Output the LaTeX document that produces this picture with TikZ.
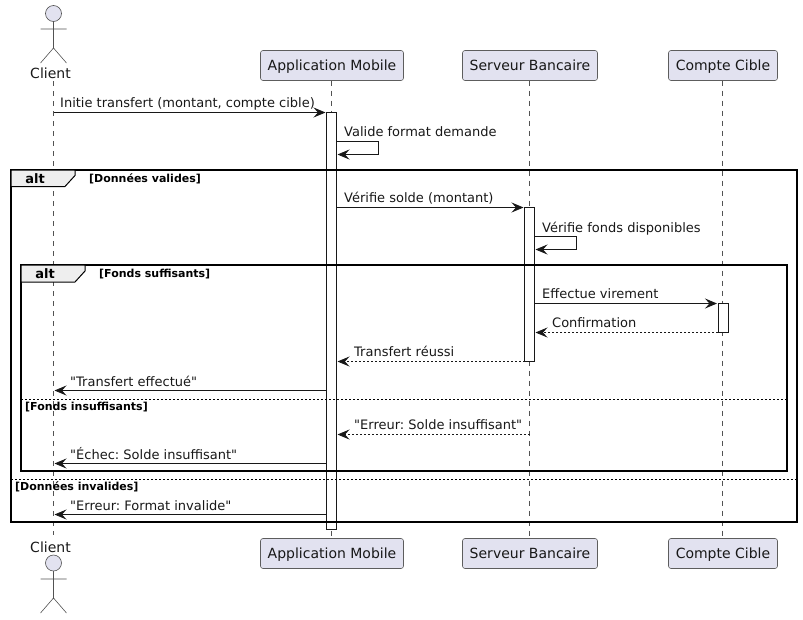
\documentclass[tikz,border=0pt]{standalone}
\usepackage{fontspec}
\setmainfont[Ligatures=TeXOff]{DejaVu Sans}
\frenchspacing
\usetikzlibrary{arrows.meta}
\definecolor{partfill}{HTML}{E2E2F0}
\definecolor{ink}{HTML}{181818}
\definecolor{tabfill}{HTML}{EEEEEE}
\tikzset{
  x=1pt,y=-1pt,
  part/.style={draw=ink!70,line width=0.6pt,fill=partfill,rounded corners=2.5pt,minimum height=30pt,inner sep=0pt,font=\fontsize{14}{16}\selectfont,text=ink,text height=11pt,text depth=2pt},
  actortext/.style={inner sep=0pt,font=\fontsize{14}{16}\selectfont,text=ink,anchor=base},
  lifeline/.style={draw=ink!75,line width=0.5pt,dash pattern=on 5pt off 5pt},
  actorline/.style={draw=ink!75,line width=0.6pt},
  actorhead/.style={draw=ink!75,line width=0.6pt,fill=partfill},
  actbox/.style={draw=ink,line width=0.8pt,fill=white,inner sep=0pt,minimum width=10pt},
  frame/.style={draw=black,line width=1.5pt},
  tab/.style={draw=black,line width=1pt,fill=tabfill},
  msg/.style={draw=ink,line width=0.8pt,-{Stealth[length=12pt,width=10pt,inset=4.5pt]}},
  rmsg/.style={msg,dash pattern=on 2pt off 2pt},
  lbl/.style={inner sep=0pt,anchor=base west,font=\fontsize{13}{15}\selectfont,text=ink},
  guard/.style={inner sep=0pt,anchor=base west,font=\fontsize{11}{13}\selectfont\bfseries,text=black},
  alttext/.style={inner sep=0pt,anchor=base,font=\fontsize{13}{15}\selectfont\bfseries,text=black},
  sep/.style={draw=black,line width=0.8pt,dash pattern=on 2pt off 2pt},
}
\begin{document}
\begin{tikzpicture}
\useasboundingbox (0,0) rectangle (803,619);
% participants
\node[part,minimum width=143pt] (appt) at (332,65.5) {Application Mobile};
\node[part,minimum width=135pt] (srvt) at (530,65.5) {Serveur Bancaire};
\node[part,minimum width=109pt] (cptt) at (723,65.5) {Compte Cible};
\node[part,minimum width=143pt] (appb) at (332,553.5) {Application Mobile};
\node[part,minimum width=135pt] (srvb) at (530,553.5) {Serveur Bancaire};
\node[part,minimum width=109pt] (cptb) at (723,553.5) {Compte Cible};
\node[actortext] (clit) at (50.5,78) {Client};
\node[actortext] (clib) at (50.5,552) {Client};
\coordinate (cliTop) at (53.5,81);
\coordinate (cliBot) at (53.5,535);
% lifelines
\draw[lifeline] (cliTop) -- (cliBot);
\draw[lifeline] (331.5,80.5) -- (331.5,538.5);
\draw[lifeline] (529.5,80.5) -- (529.5,538.5);
\draw[lifeline] (722.5,80.5) -- (722.5,538.5);
% actors
\draw[actorline] (53.5,21.5) -- (53.5,48) (40.5,29) -- (66.5,29) (40.5,63) -- (53.5,48) -- (66.5,63);
\draw[actorhead] (53.5,13.5) circle (8);
\draw[actorline] (53.5,571) -- (53.5,598) (40.5,579) -- (66.5,579) (40.5,613) -- (53.5,598) -- (66.5,613);
\draw[actorhead] (53.5,563) circle (8);
% activations
\node[actbox,minimum height=417pt] (actapp) at (331.5,321) {};
\node[actbox,minimum height=153.5pt] (actsrv) at (529.5,284.25) {};
\node[actbox,minimum height=29pt] (actcpt) at (723,318) {};
% frames
\draw[frame] (11,170) rectangle (797,522);
\draw[tab] (11,170) -- (75,170) -- (75,175.5) -- (65,186.5) -- (11,186.5) -- cycle;
\node[alttext] (alt1) at (35,183) {alt};
\node[guard] (g1) at (89,182) {[Données valides]};
\draw[frame] (21,265) rectangle (787,471);
\draw[tab] (21,265) -- (85,265) -- (85,271) -- (75,282) -- (21,282) -- cycle;
\node[alttext] (alt2) at (45,278) {alt};
\node[guard] (g2) at (99,277) {[Fonds suffisants]};
\coordinate (s1a) at (21,399.5); \coordinate (s1b) at (787,399.5);
\draw[sep] (s1a) -- (s1b);
\node[guard] (g3) at (25,410) {[Fonds insuffisants]};
\coordinate (s2a) at (11,479.5); \coordinate (s2b) at (797,479.5);
\draw[sep] (s2a) -- (s2b);
\node[guard] (g4) at (15,490) {[Données invalides]};
% message ends
\coordinate (m1a) at (53.5,112.5); \coordinate (m1b) at (325.5,112.5);
\coordinate (m2a) at (336.5,141.5); \coordinate (m2c) at (378.5,141.5); \coordinate (m2d) at (378.5,154.5); \coordinate (m2b) at (337.5,154.5);
\coordinate (m3a) at (336.5,207.5); \coordinate (m3b) at (523.5,207.5);
\coordinate (m4a) at (534.5,236.5); \coordinate (m4c) at (576.5,236.5); \coordinate (m4d) at (576.5,249.5); \coordinate (m4b) at (535.5,249.5);
\coordinate (m5a) at (534.5,303.5); \coordinate (m5b) at (717,303.5);
\coordinate (m6a) at (718,332.5); \coordinate (m6b) at (535.5,332.5);
\coordinate (m7a) at (524.5,361.5); \coordinate (m7b) at (337.5,361.5);
\coordinate (m8a) at (326.5,390.5); \coordinate (m8b) at (54.5,390.5);
\coordinate (m9a) at (529.5,434.5); \coordinate (m9b) at (337.5,434.5);
\coordinate (m10a) at (326.5,463.5); \coordinate (m10b) at (54.5,463.5);
\coordinate (m11a) at (326.5,514.5); \coordinate (m11b) at (54.5,514.5);
% messages
\draw[msg] (m1a) -- (m1b);
\draw[msg] (m2a) -- (m2c) -- (m2d) -- (m2b);
\draw[msg] (m3a) -- (m3b);
\draw[msg] (m4a) -- (m4c) -- (m4d) -- (m4b);
\draw[msg] (m5a) -- (m5b);
\draw[rmsg] (m6a) -- (m6b);
\draw[rmsg] (m7a) -- (m7b);
\draw[msg] (m8a) -- (m8b);
\draw[rmsg] (m9a) -- (m9b);
\draw[msg] (m10a) -- (m10b);
\draw[msg] (m11a) -- (m11b);
% labels
\node[lbl] (l1) at (60,107) {Initie transfert (montant, compte cible)};
\node[lbl] (l2) at (344,136) {Valide format demande};
\node[lbl] (l3) at (344,202) {Vérifie solde (montant)};
\node[lbl] (l4) at (542,232) {Vérifie fonds disponibles};
\node[lbl] (l5) at (542,298) {Effectue virement};
\node[lbl] (l6) at (552,327) {Confirmation};
\node[lbl] (l7) at (354,356) {Transfert réussi};
\node[lbl] (l8) at (70,386) {"Transfert effectué"};
\node[lbl] (l9) at (354,429) {"Erreur: Solde insuffisant"};
\node[lbl] (l10) at (70,459) {"Échec: Solde insuffisant"};
\node[lbl] (l11) at (70,510) {"Erreur: Format invalide"};
\end{tikzpicture}
\end{document}
